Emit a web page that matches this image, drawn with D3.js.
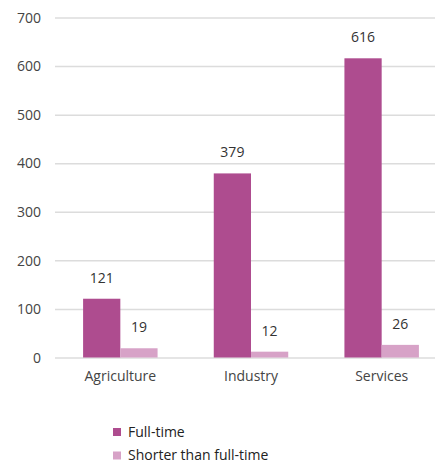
<!DOCTYPE html>
<html lang="en">
<head>
    <meta charset="UTF-8">
    <title>Employment by sector</title>
    <script src="https://d3js.org/d3.v7.min.js"></script>
    <style>
        body { margin: 0; background: #fff; }
        text { font-family: "Open Sans", "Noto Sans", sans-serif; }
    </style>
</head>
<body>

<svg width="435" height="464"></svg>

<script>

    var categories = ['Agriculture', 'Industry', 'Services'];
    var seriesNames = ['Full-time', 'Shorter than full-time'];
    var fullTime = [121, 379, 616];
    var shorter = [19, 12, 26];
    var yTicks = [0, 100, 200, 300, 400, 500, 600, 700];
    var colors = ['#ae4c8f', '#d7a2c7'];

    var svg = d3.select('svg');

    // scales
    var x = d3.scaleBand().domain(categories).range([55, 447]).paddingInner(0.43).paddingOuter(0.215);
    var xSub = d3.scaleBand().domain([0, 1]).range([0, x.bandwidth()]);
    var y = d3.scaleLinear().domain([0, 700]).range([357.5, 17.5]);

    // gridlines + y labels
    var yAxis = d3.axisLeft(y).tickValues(yTicks).tickSize(-392).tickPadding(14);
    var gy = svg.append('g').attr('transform', 'translate(55,0)').call(yAxis);
    gy.select('.domain').remove();
    gy.selectAll('line').attr('stroke', '#dcdcdc').attr('stroke-width', 1.5);
    gy.selectAll('text').attr('fill', '#444').attr('font-size', 14).attr('dy', '0.34em');

    var rows = categories.map(function (c, i) {
        return {cat: c, vals: [fullTime[i], shorter[i]]};
    });

    var groups = svg.selectAll('g.cat')
        .data(rows)
        .enter()
        .append('g')
        .attr('class', 'cat')
        .attr('transform', function (d) { return 'translate(' + x(d.cat) + ',0)'; });

    groups.selectAll('rect')
        .data(function (d) { return d.vals; })
        .enter()
        .append('rect')
        .attr('x', function (d, i) { return xSub(i); })
        .attr('y', function (d) { return y(d); })
        .attr('width', xSub.bandwidth())
        .attr('height', function (d) { return y(0) - y(d); })
        .attr('fill', function (d, i) { return colors[i]; });

    // value labels
    groups.selectAll('text.val')
        .data(function (d) { return d.vals; })
        .enter()
        .append('text')
        .attr('class', 'val')
        .attr('x', function (d, i) { return xSub(i) + xSub.bandwidth() / 2; })
        .attr('y', function (d) { return y(d) - 16; })
        .attr('text-anchor', 'middle')
        .attr('font-size', 14)
        .attr('fill', '#333')
        .text(function (d) { return d; });

    // x labels
    var xAxis = d3.axisBottom(x).tickSize(0).tickPadding(14);
    var gx = svg.append('g').attr('transform', 'translate(0,' + y(0) + ')').call(xAxis);
    gx.select('.domain').remove();
    gx.selectAll('text').attr('fill', '#444').attr('font-size', 14).attr('font-family', '"Open Sans", "Noto Sans", sans-serif');

    // legend
    var legend = svg.selectAll('g.leg')
        .data(seriesNames)
        .enter()
        .append('g')
        .attr('class', 'leg')
        .attr('transform', function (d, i) { return 'translate(113,' + (428 + i * 23.5) + ')'; });

    legend.append('rect')
        .attr('width', 8)
        .attr('height', 8)
        .attr('fill', function (d, i) { return colors[i]; });

    legend.append('text')
        .attr('x', 15)
        .attr('y', 4)
        .attr('dy', '0.35em')
        .attr('font-size', 14)
        .attr('fill', '#222')
        .text(function (d) { return d; });

</script>
</body>
</html>
